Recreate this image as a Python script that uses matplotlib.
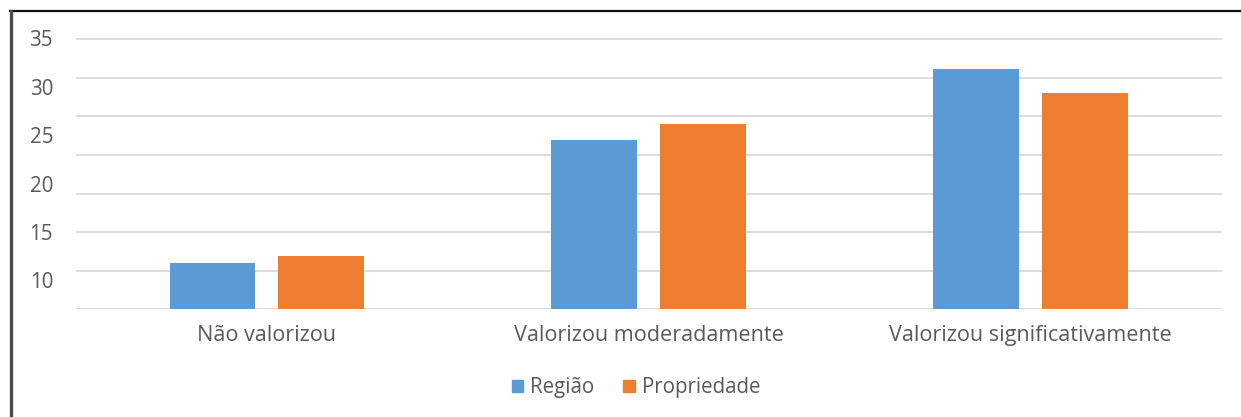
import numpy as np
import matplotlib.pyplot as plt
from matplotlib.lines import Line2D
from matplotlib.patches import Patch
from matplotlib.ticker import FixedLocator

plt.rcParams['font.family'] = ['Open Sans', 'DejaVu Sans']

# Data for the chart
categorias = ["Não valorizou", "Valorizou moderadamente", "Valorizou significativamente"]
regiao = [11.8, 24.5, 31.8]
propriedade = [12.5, 26.1, 29.3]
y_ticks = [10, 15, 20, 25, 30, 35]
series_names = ["Região", "Propriedade"]

blue = "#5B9BD5"
orange = "#ED7D31"
text_color = "#595959"
grid_color = "#D9D9D9"
fs = 14.8

fig = plt.figure(figsize=(12.41, 4.17), dpi=100)
ax = fig.add_axes([0.0612, 0.2578, 0.9232, 0.6504])

x = np.arange(len(categorias))
w = 0.225
off = 0.1425
ax.bar(x - off, regiao, w, color=blue, zorder=3)
ax.bar(x + off, propriedade, w, color=orange, zorder=3)

ymin, ymax = 7.0, 34.93
ax.set_ylim(ymin, ymax)
ax.set_xlim(-0.5, len(categorias) - 0.5)

# gridlines (8 evenly spaced lines) and labels
ax.yaxis.set_minor_locator(FixedLocator(np.linspace(ymin, ymax, 8)))
ax.grid(which='minor', axis='y', color=grid_color, linewidth=1.3, zorder=0)
ax.set_yticks(y_ticks)
ax.set_yticklabels([str(t) for t in y_ticks], fontsize=fs, color=text_color)
ax.tick_params(axis='y', which='both', length=0, pad=16.5)
ax.set_xticks(x)
ax.set_xticklabels(categorias, fontsize=15.6, color=text_color)
ax.tick_params(axis='x', length=0, pad=11.5)
for s in ax.spines.values():
    s.set_visible(False)

handles = [Patch(color=blue), Patch(color=orange)]
fig.legend(handles, series_names, loc='center', bbox_to_anchor=(636 / 1241, 1 - 388 / 417),
           ncol=2, frameon=False, fontsize=fs, labelcolor=text_color,
           handlelength=0.55, handleheight=0.55, handletextpad=0.35, columnspacing=1.4)

# outer border (top and left)
fig.add_artist(Line2D([10 / 1241, 1], [1 - 11 / 417, 1 - 11 / 417], color="#111111", linewidth=1.6))
fig.add_artist(Line2D([10.5 / 1241, 10.5 / 1241], [0, 1 - 11 / 417], color="#4a4a4a", linewidth=2.4))

fig.savefig("out.png", dpi=100)
